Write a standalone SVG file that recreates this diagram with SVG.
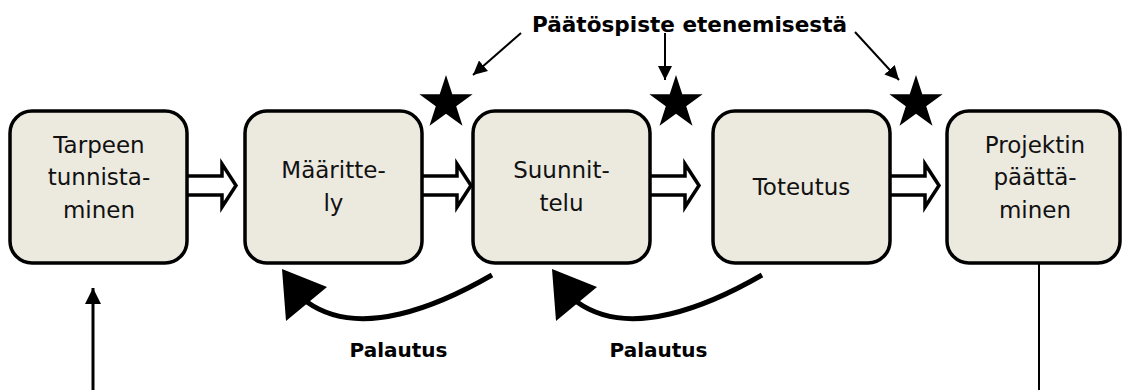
<svg xmlns="http://www.w3.org/2000/svg" width="1123" height="390" viewBox="0 0 1123 390">
  <style>
    .box { fill: #ECE9DF; stroke: #000; stroke-width: 3.5; }
    .lbl { font-family: "DejaVu Sans", "Liberation Sans", sans-serif; font-size: 23px; fill: #111; text-anchor: middle; }
    .bold { font-family: "DejaVu Sans", "Liberation Sans", sans-serif; font-weight: bold; fill: #000; }
    .block { fill: #fff; stroke: #000; stroke-width: 3.5; stroke-linejoin: miter; }
    .thin { fill: none; stroke: #000; stroke-width: 2; }
    .ret { fill: none; stroke: #000; stroke-width: 5; }
    .star { fill: #000; }
  </style>
  <defs>
    <marker id="ah" viewBox="0 0 10 10" refX="10" refY="5" markerWidth="14" markerHeight="14" markerUnits="userSpaceOnUse" orient="auto">
      <path d="M0,0 L10,5 L0,10 z" fill="#000"/>
    </marker>
    <marker id="ah2" viewBox="0 0 10 10" refX="10" refY="5" markerWidth="16" markerHeight="16" markerUnits="userSpaceOnUse" orient="auto">
      <path d="M0,0 L10,5 L0,10 z" fill="#000"/>
    </marker>
    <path id="starShape" d="M0,-28 L6.3,-8.7 L26.6,-8.7 L10.2,3.3 L16.5,22.7 L0,10.7 L-16.5,22.7 L-10.2,3.3 L-26.6,-8.7 L-6.3,-8.7 Z"/>
  </defs>

  <g id="connectors">
    <path class="block" d="M185,176 H222 V164 L236,185.5 L222,207 V195 H185 Z"/>
    <path class="block" d="M420,176 H457 V164 L471,185.5 L457,207 V195 H420 Z"/>
    <path class="block" d="M648,176 H685 V164 L699,185.5 L685,207 V195 H648 Z"/>
    <path class="block" d="M888,176 H925 V164 L939,185.5 L925,207 V195 H888 Z"/>
    <path class="ret" d="M492,275 C440,305 360,340 307,302"/>
    <polygon points="282,269 327,287 286,321" fill="#000"/>
    <path class="ret" d="M762,275 C710,305 630,340 577,302"/>
    <polygon points="552,269 597,287 556,321" fill="#000"/>
    <line class="thin" x1="521" y1="33" x2="473" y2="75" marker-end="url(#ah)"/>
    <line class="thin" x1="665" y1="33" x2="665" y2="80" marker-end="url(#ah)"/>
    <line class="thin" x1="855" y1="32" x2="899" y2="80" marker-end="url(#ah)"/>
    <line x1="93" y1="390" x2="93" y2="288" stroke="#000" stroke-width="3" marker-end="url(#ah2)"/>
    <line x1="1039" y1="263" x2="1039" y2="390" stroke="#000" stroke-width="2"/>
  </g>

  <g id="stars">
    <use href="#starShape" class="star" x="446" y="103"/>
    <use href="#starShape" class="star" x="676" y="103"/>
    <use href="#starShape" class="star" x="916" y="103"/>
  </g>

  <g id="n1">
    <rect class="box" x="10" y="111" width="177" height="152" rx="22"/>
    <text class="lbl" x="99" y="153">Tarpeen</text>
    <text class="lbl" x="99" y="185">tunnista-</text>
    <text class="lbl" x="99" y="218">minen</text>
  </g>
  <g id="n2">
    <rect class="box" x="245" y="111" width="177" height="152" rx="22"/>
    <text class="lbl" x="333.5" y="178">Määritte-</text>
    <text class="lbl" x="333.5" y="211">ly</text>
  </g>
  <g id="n3">
    <rect class="box" x="473" y="111" width="177" height="152" rx="22"/>
    <text class="lbl" x="561.5" y="178">Suunnit-</text>
    <text class="lbl" x="561.5" y="211">telu</text>
  </g>
  <g id="n4">
    <rect class="box" x="713" y="111" width="177" height="152" rx="22"/>
    <text class="lbl" x="801.5" y="195">Toteutus</text>
  </g>
  <g id="n5">
    <rect class="box" x="947" y="111" width="173" height="152" rx="22"/>
    <text class="lbl" x="1035" y="153">Projektin</text>
    <text class="lbl" x="1035" y="185">päättä-</text>
    <text class="lbl" x="1035" y="218">minen</text>
  </g>

  <g id="labels">
    <text class="bold" x="532" y="32" font-size="21.5" textLength="315" lengthAdjust="spacingAndGlyphs">Päätöspiste etenemisestä</text>
    <text class="bold" x="398.5" y="357" font-size="20" text-anchor="middle">Palautus</text>
    <text class="bold" x="658.5" y="357" font-size="20" text-anchor="middle">Palautus</text>
  </g>
</svg>
